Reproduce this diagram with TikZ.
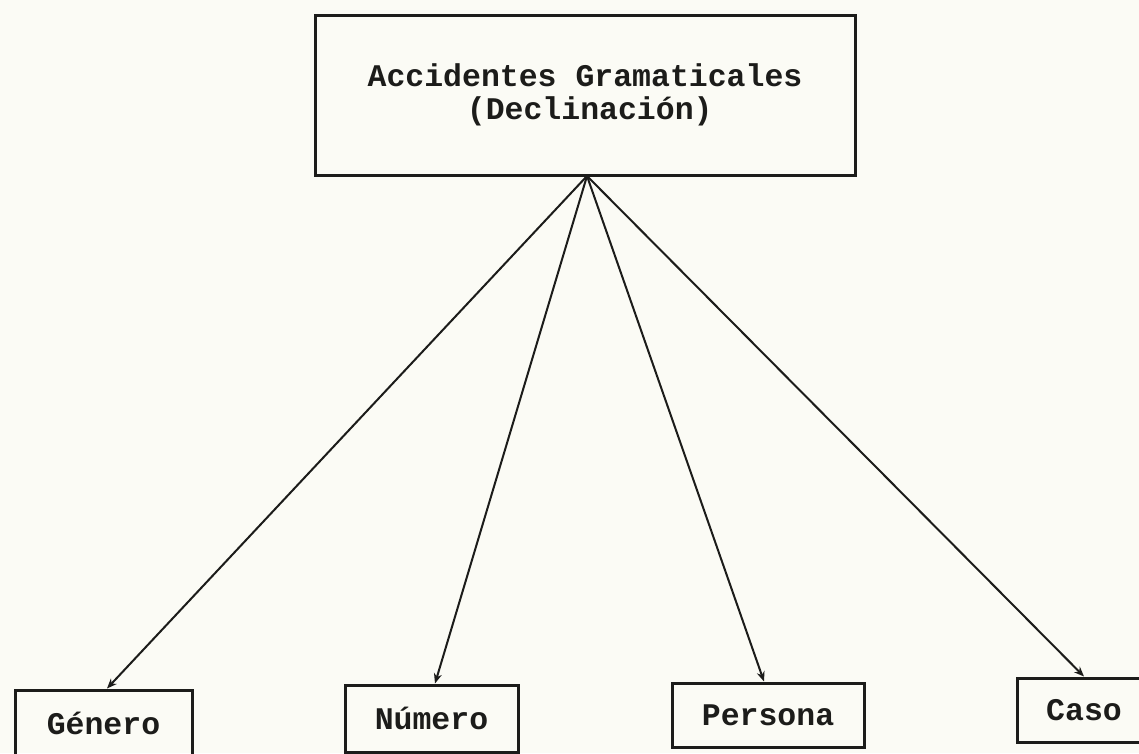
\documentclass[tikz,border=0pt]{standalone}
\usepackage{fontspec}
\setmonofont{Liberation Mono}
\usetikzlibrary{arrows.meta}
\definecolor{paper}{RGB}{251,251,245}
\definecolor{ink}{RGB}{28,28,26}
\begin{document}
\begin{tikzpicture}[x=1pt,y=-1pt,
  boxstyle/.style={draw=ink,line width=3pt,rectangle,inner sep=0pt,
    font=\ttfamily\bfseries\fontsize{31.5}{32}\selectfont,text=ink,align=center},
  linkstyle/.style={draw=ink,line width=2pt,-{Stealth[length=10pt,width=8pt]}}]
\fill[paper] (0,0) rectangle (1139,753);
\useasboundingbox (0,0) rectangle (1139,753);
\clip (0,0) rectangle (1139,753);
\node[boxstyle,minimum width=540pt,minimum height=160pt] (top) at (585,95)
  {Accidentes Gramaticales\\[1pt]\hspace*{0.3em}(Declinación)};
\node[boxstyle,minimum width=177pt,minimum height=66pt] (gen) at (103.5,723) {Género};
\node[boxstyle,minimum width=173pt,minimum height=67pt] (num) at (431.5,718.5) {Número};
\node[boxstyle,minimum width=192pt,minimum height=64pt] (per) at (768,715) {Persona};
\node[boxstyle,minimum width=134pt,minimum height=64pt] (cas) at (1084,710) {Caso};
\coordinate (apex) at (587,176);
\draw[linkstyle] (apex) -- ([xshift=3.5pt]gen.north);
\draw[linkstyle] (apex) -- ([xshift=3.5pt]num.north);
\draw[linkstyle] (apex) -- ([xshift=-4pt]per.north);
\draw[linkstyle] (apex) -- (cas.north);
\end{tikzpicture}
\end{document}
